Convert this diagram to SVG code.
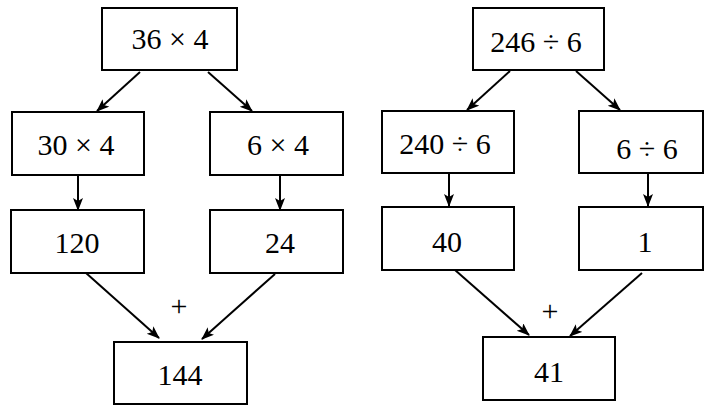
<svg xmlns="http://www.w3.org/2000/svg" width="704" height="405" viewBox="0 0 704 405">
<defs>
<style>
.box{fill:#fff;stroke:#000;stroke-width:2}
.c{stroke:#000;stroke-width:2;fill:none;marker-end:url(#ah)}
</style>
<marker id="ah" markerUnits="userSpaceOnUse" markerWidth="14" markerHeight="12" refX="12" refY="5" orient="auto">
<path d="M0,0 L13,5 L0,10 L3,5 Z" fill="#000"/>
</marker>
</defs>
<rect width="704" height="405" fill="#fff"/>
<g id="connectors">
<line class="c" x1="140" y1="72" x2="97" y2="111"/>
<line class="c" x1="208" y1="72" x2="252" y2="111"/>
<line class="c" x1="78" y1="175" x2="78" y2="210"/>
<line class="c" x1="280" y1="175" x2="280" y2="210"/>
<line class="c" x1="86" y1="273" x2="159" y2="338"/>
<line class="c" x1="275" y1="274" x2="202" y2="339"/>
<line class="c" x1="510" y1="71" x2="467" y2="110"/>
<line class="c" x1="576" y1="71" x2="620" y2="110"/>
<line class="c" x1="449" y1="173" x2="449" y2="206"/>
<line class="c" x1="648" y1="173" x2="648" y2="206"/>
<line class="c" x1="455" y1="270" x2="529" y2="335"/>
<line class="c" x1="642" y1="273" x2="570" y2="336"/>
</g>
<g font-family="'Liberation Serif', 'DejaVu Serif', serif" font-size="30" fill="#000" text-anchor="middle">
<g id="n36x4"><rect class="box" x="102" y="8" width="135" height="62"/><text x="170" y="49">36 × 4</text></g>
<g id="n30x4"><rect class="box" x="12" y="112" width="132" height="63"/><text x="76" y="155">30 × 4</text></g>
<g id="n6x4"><rect class="box" x="210" y="112" width="133" height="63"/><text x="278" y="155">6 × 4</text></g>
<g id="n120"><rect class="box" x="11" y="210" width="133" height="63"/><text x="77" y="253">120</text></g>
<g id="n24"><rect class="box" x="210" y="210" width="133" height="63"/><text x="280" y="253">24</text></g>
<g id="plusL"><text x="179" y="316" font-size="30">+</text></g>
<g id="n144"><rect class="box" x="114" y="342" width="133" height="62"/><text x="180" y="385">144</text></g>
<g id="n246d6"><rect class="box" x="473" y="8" width="131" height="62"/><text x="536" y="52">246 ÷ 6</text></g>
<g id="n240d6"><rect class="box" x="382" y="111" width="132" height="62"/><text x="445" y="154">240 ÷ 6</text></g>
<g id="n6d6"><rect class="box" x="579" y="111" width="124" height="62"/><text x="647" y="159">6 ÷ 6</text></g>
<g id="n40"><rect class="box" x="382" y="207" width="132" height="63"/><text x="447" y="252">40</text></g>
<g id="n1"><rect class="box" x="579" y="207" width="124" height="63"/><text x="645" y="252">1</text></g>
<g id="plusR"><text x="550" y="321" font-size="30">+</text></g>
<g id="n41"><rect class="box" x="483" y="337" width="132" height="63"/><text x="549" y="382">41</text></g>
</g>
</svg>
